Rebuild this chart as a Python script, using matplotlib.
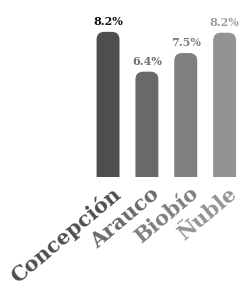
import matplotlib
matplotlib.use("Agg")
import matplotlib.pyplot as plt
from matplotlib.patches import FancyBboxPatch

# data
regions = ["Concepción", "Arauco", "Biobío", "Ñuble"]
heights = [8.2, 5.95, 7.0, 8.15]
labels = ["8.2%", "6.4%", "7.5%", "8.2%"]

bar_colors = ["#4e4e50", "#69696b", "#7f7f81", "#939395"]
label_colors = ["#111111", "#6e6e70", "#7c7c7e", "#9c9c9e"]
tick_colors = ["#4e4e50", "#69696b", "#7f7f81", "#939395"]

fig = plt.figure(figsize=(2.46, 2.85), dpi=100)
ax = fig.add_axes([0, 0.379, 1, 0.621])
ax.set_xlim(-2.78, 3.55)
ax.set_ylim(0, 10.0)
ax.axis("off")

width = 0.59
r = 0.2
for i, h in enumerate(heights):
    p = FancyBboxPatch((i - width / 2, -1), width, h + 1,
                       boxstyle=f"round,pad=0,rounding_size={r}",
                       mutation_aspect=2.19,
                       facecolor=bar_colors[i], edgecolor="none")
    ax.add_patch(p)
    ax.annotate(labels[i], (i, h), xytext=(0, 3.5), textcoords="offset points",
                ha="center", va="bottom", fontsize=8, fontweight="bold",
                family="DejaVu Serif", color=label_colors[i])
    ax.annotate(regions[i], (i, 0), xytext=(7, -10), textcoords="offset points",
                ha="right", va="center", rotation=40, rotation_mode="anchor",
                fontsize=15, fontweight="bold", family="DejaVu Serif",
                color=tick_colors[i], annotation_clip=False)

fig.savefig("out.png", dpi=100)
